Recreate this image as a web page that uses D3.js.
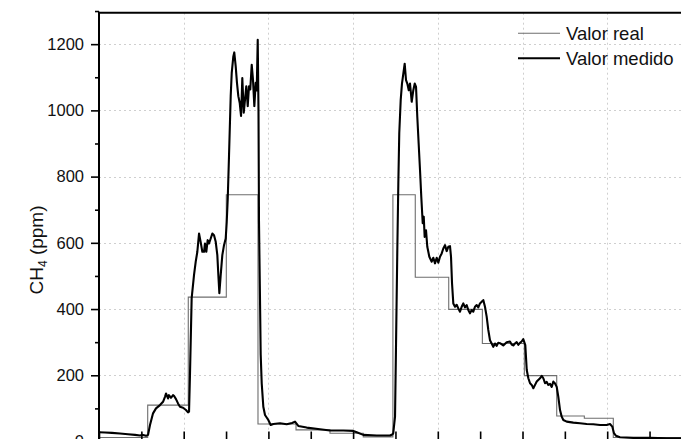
<!DOCTYPE html>
<html>
<head>
<meta charset="utf-8">
<script src="https://cdn.jsdelivr.net/npm/d3@7"></script>
<style>
  html, body { margin: 0; padding: 0; background: #fff; }
  svg { display: block; font-family: "Liberation Sans", Arial, sans-serif; }
</style>
</head>
<body>
<svg id="chart" width="681" height="439"></svg>
<script>
// Setpoint (step) series: time (min) where each level starts, and CH4 level (ppm)
const realTimes  = [0, 5.75, 10.54, 15.03, 18.77, 23.26, 27.27, 31.2, 34.7, 37.34, 41.29, 45.26, 50.22, 54.04, 57.3, 60.72, 70];
const realValues = [12, 110, 436, 745, 53, 35, 25, 14, 745, 496, 399, 296, 199, 77, 70, 12, 12];

// Sensor reading series
const measTimes = [
  0.00, 0.71, 1.53, 2.48, 3.42, 4.25, 4.84, 5.19, 5.55, 5.79, 6.02, 6.38, 6.73, 7.20, 7.56, 7.79, 7.91, 8.15, 8.26, 8.50,
  8.74, 8.85, 9.09, 9.33, 9.56, 9.92, 10.27, 10.51, 10.63, 10.74, 10.94, 11.22, 11.42, 11.61, 11.81, 12.00, 12.20, 12.40, 12.51, 12.67,
  12.83, 12.99, 13.19, 13.38, 13.58, 13.78, 13.97, 14.09, 14.21, 14.37, 14.56, 14.76, 14.96, 15.08, 15.20, 15.35, 15.55, 15.67, 15.86, 15.97,
  16.14, 16.29, 16.45, 16.61, 16.77, 16.85, 16.92, 17.09, 17.24, 17.39, 17.56, 17.71, 17.86, 18.03, 18.18, 18.34, 18.50, 18.62, 18.74, 18.83,
  18.89, 19.01, 19.09, 19.21, 19.40, 19.60, 19.99, 20.27, 20.58, 21.37, 22.16, 22.79, 23.14, 23.53, 24.52, 26.09, 27.27, 28.84, 30.02, 30.43,
  31.20, 32.79, 34.36, 34.67, 34.74, 34.95, 35.06, 35.22, 35.34, 35.45, 35.62, 35.77, 35.93, 36.09, 36.25, 36.40, 36.57, 36.72, 36.92, 37.11,
  37.28, 37.43, 37.58, 37.74, 37.90, 38.05, 38.22, 38.34, 38.45, 38.61, 38.76, 39.00, 39.28, 39.47, 39.67, 39.87, 40.06, 40.26, 40.46, 40.65,
  40.85, 41.05, 41.24, 41.44, 41.56, 41.68, 41.83, 42.03, 42.23, 42.42, 42.62, 42.82, 43.01, 43.21, 43.41, 43.60, 43.80, 44.00, 44.19, 44.39,
  44.59, 44.78, 44.98, 45.18, 45.37, 45.57, 45.77, 45.96, 46.16, 46.36, 46.55, 46.75, 46.95, 47.14, 47.34, 47.73, 48.13, 48.52, 48.72, 48.91,
  49.11, 49.31, 49.50, 49.70, 49.90, 50.09, 50.33, 50.50, 50.69, 50.89, 51.09, 51.28, 51.48, 51.68, 52.07, 52.27, 52.46, 52.66, 52.86, 53.05,
  53.25, 53.45, 53.64, 53.84, 54.04, 54.23, 54.43, 54.63, 54.82, 55.22, 56.00, 56.79, 57.58, 58.36, 59.15, 59.94, 60.33, 60.60, 60.80, 61.04,
  61.51, 63.08, 65.05, 67.03, 68.71, 70.00
];
const measValues = [
  28, 27, 26, 24, 22, 20, 18, 20, 17, 20, 50, 85, 100, 110, 120, 135, 145, 130, 140, 132,
  140, 138, 128, 115, 105, 102, 95, 88, 90, 200, 433, 503, 543, 573, 628, 603, 573, 573, 598, 573,
  608, 598, 613, 628, 623, 603, 563, 503, 448, 503, 563, 593, 613, 663, 733, 863, 1043, 1113, 1163, 1175,
  1133, 1083, 1043, 1023, 983, 1040, 1098, 993, 1033, 1073, 1013, 1073, 1063, 1138, 1093, 1013, 1083, 1060, 1213, 1000,
  663, 427, 263, 176, 105, 80, 65, 50, 53, 55, 52, 56, 60, 47, 42, 37, 33, 33, 32, 28,
  20, 18, 18, 22, 25, 75, 276, 578, 780, 931, 1031, 1081, 1111, 1141, 1091, 1081, 1061, 1081, 1026, 1061,
  1081, 1071, 980, 900, 820, 739, 659, 679, 618, 638, 588, 558, 543, 555, 538, 555, 540, 558, 568, 583,
  593, 575, 588, 590, 558, 478, 417, 407, 413, 402, 392, 407, 417, 405, 412, 397, 387, 397, 392, 407,
  412, 405, 417, 422, 427, 407, 377, 337, 306, 296, 286, 296, 289, 298, 297, 290, 300, 302, 293, 290,
  296, 300, 292, 298, 302, 309, 291, 216, 191, 176, 171, 161, 171, 181, 191, 198, 191, 176, 180, 171,
  174, 165, 181, 175, 165, 135, 95, 75, 65, 60, 57, 55, 53, 52, 50, 50, 53, 45, 25, 17,
  13, 11, 11, 10, 10, 10
];

const yTicks = [0, 200, 400, 600, 800, 1000, 1200];
const yMinorTicks = [100, 300, 500, 700, 900, 1100, 1300];
const xTicks = [0, 10, 20, 30, 40, 50, 60, 70];
const xMinorTicks = [5, 15, 25, 35, 45, 55, 65];
const yLabel = "CH";
const yLabelSub = "4";
const yLabelUnit = " (ppm)";
const legendLabels = ["Valor real", "Valor medido"];

const svg = d3.select("#chart");
const plotLeft = 99, plotRight = 691.9, plotTop = 12.7, plotBottom = 441.5;

const x = d3.scaleLinear().domain([0, 70]).range([plotLeft, plotRight]);
const y = d3.scaleLinear().domain([0, 1295]).range([plotBottom, plotTop]);

svg.append("defs").append("clipPath").attr("id", "plotClip")
  .append("rect").attr("x", plotLeft).attr("y", plotTop)
  .attr("width", plotRight - plotLeft).attr("height", plotBottom - plotTop);

// dotted grid
const grid = svg.append("g").attr("stroke", "#cfcfcf").attr("stroke-width", 1).attr("stroke-dasharray", "2,3");
grid.selectAll("line.gy").data(yTicks.filter(d => d > 0)).join("line")
  .attr("x1", plotLeft).attr("x2", plotRight)
  .attr("y1", d => Math.round(y(d)) + 0.5).attr("y2", d => Math.round(y(d)) + 0.5);
grid.selectAll("line.gx").data(xTicks.filter(d => d > 0)).join("line")
  .attr("y1", plotTop).attr("y2", plotBottom)
  .attr("x1", d => Math.round(x(d)) + 0.5).attr("x2", d => Math.round(x(d)) + 0.5);

const plot = svg.append("g").attr("clip-path", "url(#plotClip)");

// setpoint steps
const realData = realTimes.map((t, i) => [t, realValues[i]]);
plot.append("path").datum(realData)
  .attr("fill", "none").attr("stroke", "#6e6e6e").attr("stroke-width", 1.1)
  .attr("d", d3.line().x(d => x(d[0])).y(d => y(d[1])).curve(d3.curveStepAfter));

// sensor readings
const measData = measTimes.map((t, i) => [t, measValues[i]]);
plot.append("path").datum(measData)
  .attr("fill", "none").attr("stroke", "#000").attr("stroke-width", 2.1).attr("stroke-linejoin", "round")
  .attr("d", d3.line().x(d => x(d[0])).y(d => y(d[1])));

// y axis
const yAxis = d3.axisLeft(y).tickValues(yTicks).tickSize(8).tickPadding(7).tickFormat(d3.format("d"));
const gy = svg.append("g").attr("transform", `translate(${plotLeft},0)`).call(yAxis);
gy.select(".domain").remove();
gy.selectAll(".tick line").attr("stroke", "#000").attr("stroke-width", 1.6);
gy.selectAll(".tick text").attr("font-size", 16.5).attr("fill", "#111")
  .attr("font-family", "Liberation Sans, Arial, sans-serif");
const yMinor = d3.axisLeft(y).tickValues(yMinorTicks).tickSize(4).tickFormat("");
const gym = svg.append("g").attr("transform", `translate(${plotLeft},0)`).call(yMinor);
gym.select(".domain").remove();
gym.selectAll(".tick line").attr("stroke", "#000").attr("stroke-width", 1.6);

// x axis (ticks point into the plot)
const xAxis = d3.axisBottom(x).tickValues(xTicks).tickSizeInner(-10).tickSizeOuter(0).tickFormat("");
const gx = svg.append("g").attr("transform", `translate(0,${plotBottom})`).call(xAxis);
gx.select(".domain").attr("stroke", "#000").attr("stroke-width", 2);
gx.selectAll(".tick line").attr("stroke", "#000").attr("stroke-width", 1.6);
const xMinor = d3.axisBottom(x).tickValues(xMinorTicks).tickSizeInner(-10).tickSizeOuter(0).tickFormat("");
const gxm = svg.append("g").attr("transform", `translate(0,${plotBottom})`).call(xMinor);
gxm.select(".domain").remove();
gxm.selectAll(".tick line").attr("stroke", "#000").attr("stroke-width", 1.6);

// frame: left and top edges
svg.append("line").attr("x1", plotLeft).attr("x2", plotLeft).attr("y1", plotTop - 1).attr("y2", plotBottom)
  .attr("stroke", "#000").attr("stroke-width", 2);
svg.append("line").attr("x1", plotLeft).attr("x2", plotRight).attr("y1", plotTop).attr("y2", plotTop)
  .attr("stroke", "#000").attr("stroke-width", 2);

// y axis title
const yt = svg.append("text").attr("transform", "translate(43,250) rotate(-90)")
  .attr("text-anchor", "middle").attr("font-size", 19).attr("fill", "#111");
yt.append("tspan").text(yLabel);
yt.append("tspan").attr("font-size", 12).attr("dy", 4).text(yLabelSub);
yt.append("tspan").attr("dy", -4).text(yLabelUnit);

// legend
const legend = svg.append("g");
const legendStyles = [{ stroke: "#6e6e6e", width: 1.1 }, { stroke: "#000", width: 2.1 }];
legendLabels.forEach((label, i) => {
  const ly = 33.3 + i * 25;
  legend.append("line").attr("x1", 518).attr("x2", 560).attr("y1", ly).attr("y2", ly)
    .attr("stroke", legendStyles[i].stroke).attr("stroke-width", legendStyles[i].width);
  legend.append("text").attr("x", 566).attr("y", ly).attr("dy", "0.35em")
    .attr("font-size", 18.5).attr("fill", "#111").text(label);
});
</script>
</body>
</html>
